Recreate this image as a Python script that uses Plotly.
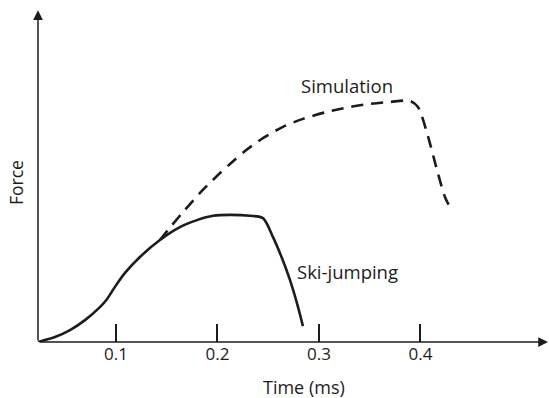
import plotly.graph_objects as go

# Ski-jumping (solid) force curve, arbitrary force units
ski_time = [0.0232, 0.0399, 0.0547, 0.0695, 0.0842, 0.0911, 0.099, 0.1089, 0.1236,
            0.1433, 0.163, 0.1798, 0.1956, 0.2123, 0.232, 0.2448, 0.2547, 0.2635,
            0.2714, 0.2783, 0.2842]
ski_force = [0.0, 1.5, 3.6, 6.6, 10.5, 12.9, 16.6, 20.8, 25.6,
             30.7, 34.6, 36.7, 38.0, 38.3, 38.0, 37.3, 31.6, 25.3,
             18.7, 11.7, 4.8]

# Simulation (dashed) force curve
sim_time = [0.1433, 0.1552, 0.168, 0.1828, 0.1975, 0.2123, 0.2271, 0.2448, 0.2645,
            0.2842, 0.3079, 0.3305, 0.3502, 0.37, 0.3897, 0.3975, 0.4064, 0.4163,
            0.4241, 0.431]
sim_force = [30.7, 35.2, 39.8, 44.9, 49.4, 53.6, 57.5, 61.4, 64.8,
             67.2, 69.3, 70.8, 71.7, 72.3, 72.6, 70.8, 63.0, 51.8,
             43.7, 39.5]

tick_vals = [0.1, 0.2, 0.3, 0.4]
tick_text = ["0.1", "0.2", "0.3", "0.4"]

x0, x1 = 0.0232, 0.5266
y0, y1 = 0.0, 103.0
ink = "#1c1c1c"
font = "Open Sans"

fig = go.Figure()

fig.add_trace(go.Scatter(
    x=ski_time, y=ski_force, mode="lines",
    line=dict(color=ink, width=2.6, shape="spline", smoothing=0.8),
    showlegend=False, hoverinfo="skip",
))
fig.add_trace(go.Scatter(
    x=sim_time, y=sim_force, mode="lines",
    line=dict(color=ink, width=2.6, dash="12px,8px", shape="spline", smoothing=0.8),
    showlegend=False, hoverinfo="skip",
))

# axes drawn as arrows
fig.add_annotation(x=x1 - 0.001, y=y0, ax=x0, ay=y0, xref="x", yref="y",
                   axref="x", ayref="y", showarrow=True, arrowhead=2,
                   arrowsize=1.3, arrowwidth=1.5, arrowcolor=ink, text="")
fig.add_annotation(x=x0, y=y1 - 3.1, ax=x0, ay=y0, xref="x", yref="y",
                   axref="x", ayref="y", showarrow=True, arrowhead=2,
                   arrowsize=1.3, arrowwidth=1.5, arrowcolor=ink, text="")

# curve labels
fig.add_annotation(x=0.3276, y=77.4, text="Simulation", showarrow=False,
                   font=dict(family=font, size=18.5, color=ink))
fig.add_annotation(x=0.3276, y=21.1, text="Ski-jumping", showarrow=False,
                   font=dict(family=font, size=18.5, color=ink))

# axis titles
fig.add_annotation(x=0.5205, y=-0.1316, xref="paper", yref="paper",
                   text="Time (ms)", showarrow=False, yanchor="middle",
                   font=dict(family=font, size=18, color=ink))
fig.add_annotation(x=-0.043, y=0.465, xref="paper", yref="paper",
                   text="Force", showarrow=False, textangle=-90,
                   xanchor="center", yanchor="middle",
                   font=dict(family=font, size=17.5, color=ink))

fig.update_layout(
    width=549,
    height=398,
    margin=dict(l=38, r=0, t=0, b=56),
    plot_bgcolor="white",
    paper_bgcolor="white",
    font=dict(family=font, size=17, color=ink),
    xaxis=dict(
        range=[x0, x1], showgrid=False, zeroline=False, showline=False,
        ticks="inside", ticklen=18, tickwidth=1.5, tickcolor=ink,
        tickvals=tick_vals, ticktext=tick_text,
        tickfont=dict(family=font, size=17, color=ink),
    ),
    yaxis=dict(
        range=[y0, y1], showgrid=False, zeroline=False, showline=False,
        showticklabels=False, ticks="",
    ),
)

# drop the browser's default body margin so the figure sits at the page corner
fig.write_html(
    "out.html",
    config={"displayModeBar": False},
    post_script="document.body.style.margin='0';",
)
